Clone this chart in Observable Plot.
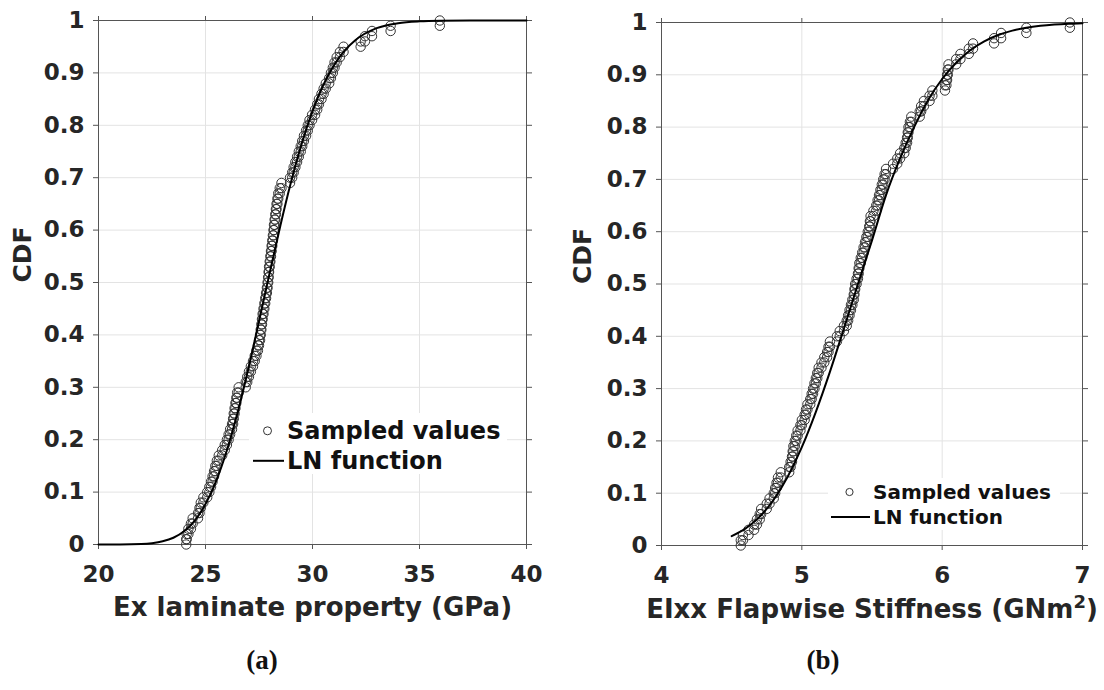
<!DOCTYPE html>
<html>
<head>
<meta charset="utf-8">
<script src="https://cdn.jsdelivr.net/npm/d3@7"></script>
<script src="https://cdn.jsdelivr.net/npm/@observablehq/plot@0.6"></script>
<style>
  html, body { margin: 0; padding: 0; background: #fff; }
  #wrap { position: relative; width: 1104px; height: 690px; overflow: hidden; font-family: "DejaVu Sans", sans-serif; }
  .panel { position: absolute; top: 0; }
  .legend { position: absolute; background: #fff; color: #111; font-weight: bold; font-family: "DejaVu Sans", sans-serif; }
  .legend .row { position: absolute; left: 0; white-space: nowrap; display: flex; align-items: center; }
  .legend svg { display: block; }
  .caption { position: absolute; font-family: "Liberation Serif", "Times New Roman", serif; font-weight: bold; font-size: 27px; color: #111; transform: translate(-50%, -50%); }
</style>
</head>
<body>
<div id="wrap">
  <div id="panelA" class="panel" style="left:0px"></div>
  <div id="panelB" class="panel" style="left:552px"></div>
</div>
<script>
// Tick values
const xTicksA = [20, 25, 30, 35, 40];
const xTicksB = [4, 5, 6, 7];
const yTicks = [0, 0.1, 0.2, 0.3, 0.4, 0.5, 0.6, 0.7, 0.8, 0.9, 1];

// Axis titles and legend text
const titleA = "Ex laminate property (GPa)";
const titleB = ["EIxx Flapwise Stiffness (GNm", "2", ")"];
const yTitle = "CDF";
const seriesNames = ["Sampled values", "LN function"];
const captions = ["(a)", "(b)"];

// Sorted samples of Ex (GPa), 100 draws
const sampledEx = [
  24.10, 24.12, 24.20, 24.32, 24.40, 24.65, 24.72, 24.78, 24.90, 25.08,
  25.18, 25.26, 25.33, 25.40, 25.46, 25.53, 25.62, 25.78, 25.90, 26.00,
  26.08, 26.15, 26.24, 26.29, 26.32, 26.36, 26.40, 26.44, 26.48, 26.55,
  26.88, 26.95, 27.03, 27.12, 27.22, 27.30, 27.38, 27.45, 27.50, 27.55,
  27.58, 27.61, 27.64, 27.67, 27.71, 27.75, 27.79, 27.83, 27.87, 27.90,
  27.93, 27.95, 27.97, 28.00, 28.03, 28.06, 28.09, 28.12, 28.15, 28.18,
  28.20, 28.23, 28.26, 28.29, 28.32, 28.36, 28.40, 28.47, 28.55, 28.95,
  29.05, 29.12, 29.20, 29.28, 29.36, 29.45, 29.52, 29.60, 29.70, 29.78,
  29.86, 29.98, 30.12, 30.22, 30.30, 30.42, 30.52, 30.62, 30.78, 30.86,
  30.95, 31.03, 31.13, 31.28, 31.45, 32.25, 32.45, 32.78, 33.65, 35.95
];

// Sorted samples of EIxx (GNm2), 100 draws
const sampledEI = [
  4.565, 4.58, 4.62, 4.66, 4.68, 4.70, 4.71, 4.75, 4.77, 4.80,
  4.81, 4.82, 4.83, 4.85, 4.91, 4.92, 4.93, 4.935, 4.94, 4.95,
  4.96, 4.97, 4.99, 5.00, 5.02, 5.03, 5.04, 5.06, 5.07, 5.08,
  5.09, 5.10, 5.11, 5.12, 5.14, 5.16, 5.18, 5.19, 5.20, 5.25,
  5.27, 5.30, 5.32, 5.33, 5.34, 5.35, 5.36, 5.37, 5.375, 5.38,
  5.39, 5.40, 5.405, 5.41, 5.42, 5.43, 5.44, 5.45, 5.46, 5.47,
  5.48, 5.485, 5.49, 5.51, 5.53, 5.54, 5.55, 5.56, 5.57, 5.58,
  5.59, 5.60, 5.65, 5.68, 5.70, 5.73, 5.74, 5.75, 5.755, 5.76,
  5.77, 5.78, 5.84, 5.85, 5.87, 5.91, 5.93, 6.02, 6.03, 6.035,
  6.04, 6.045, 6.10, 6.13, 6.19, 6.22, 6.37, 6.42, 6.60, 6.91
];

// Fitted lognormal CDF, Ex
const lnExX = [20, 21, 22, 22.5, 23, 23.5, 24, 24.5, 25, 25.5, 26, 26.5, 27, 27.5, 28, 28.5,
  29, 29.5, 30, 30.5, 31, 31.5, 32, 33, 34, 35, 36, 38, 40];
const lnExCdf = [0, 0.0001, 0.001, 0.0026, 0.0061, 0.0129, 0.0252, 0.0457, 0.0771, 0.1214,
  0.1799, 0.2518, 0.335, 0.4258, 0.5185, 0.6089, 0.6922, 0.7655, 0.827, 0.8764, 0.9144,
  0.9425, 0.9625, 0.9854, 0.9949, 0.9984, 0.9995, 1, 1];

// Fitted lognormal CDF, EIxx
const lnEIX = [4.5, 4.6, 4.7, 4.8, 4.9, 5.0, 5.1, 5.2, 5.3, 5.4, 5.5, 5.6, 5.7, 5.8, 5.9,
  6.0, 6.1, 6.2, 6.3, 6.4, 6.5, 6.6, 6.7, 6.8, 6.9, 7.0];
const lnEICdf = [0.018, 0.0327, 0.0553, 0.0879, 0.132, 0.188, 0.2556, 0.332, 0.415, 0.5,
  0.5835, 0.67, 0.74, 0.80, 0.852, 0.892, 0.923, 0.947, 0.964, 0.976, 0.9845, 0.99, 0.9936,
  0.996, 0.9976, 0.9986];

// Empirical CDF: each sample drawn at both ends of its step
function ecdf(values) {
  const n = values.length;
  return values.flatMap((v, i) => [{x: v, y: i / n}, {x: v, y: (i + 1) / n}]);
}
const zip = (xs, ys) => xs.map((x, i) => ({x, y: ys[i]}));
const fmtY = d => String(+d.toFixed(1));

const ink = "#262626";
const axisGray = "#555555";
const gridGray = "#e3e3e3";

// One CDF panel: boxed frame with outward ticks on all sides, grid, samples and fitted curve
function cdfPanel({xDomain, xTicks, samples, curve, margins, xTitle, xTitleDy, yTitleDx}) {
  return Plot.plot({
    width: 552, height: 690,
    marginLeft: margins[0], marginRight: margins[1], marginTop: margins[2], marginBottom: margins[3],
    x: {domain: xDomain},
    y: {domain: [0, 1]},
    style: {fontFamily: "DejaVu Sans", fontWeight: "bold", color: ink, background: "transparent", overflow: "visible"},
    marks: [
      Plot.gridX(xTicks, {stroke: gridGray, strokeOpacity: 1}),
      Plot.gridY(yTicks, {stroke: gridGray, strokeOpacity: 1}),
      Plot.frame({stroke: axisGray}),
      Plot.axisX(xTicks, {anchor: "bottom", tickSize: 5, tickPadding: 16, fontSize: 23, stroke: axisGray, fill: ink, label: null, tickFormat: d => String(d)}),
      Plot.axisX(xTicks, {anchor: "top", tickSize: 5, stroke: axisGray, fill: "none", label: null}),
      Plot.axisY(yTicks, {anchor: "left", tickSize: 5, tickPadding: 9, fontSize: 23, stroke: axisGray, fill: ink, label: null, tickFormat: fmtY}),
      Plot.axisY(yTicks, {anchor: "right", tickSize: 5, stroke: axisGray, fill: "none", label: null}),
      Plot.dot(ecdf(samples), {x: "x", y: "y", r: 4.7, stroke: "#333", strokeWidth: 1, fill: "none"}),
      Plot.line(curve, {x: "x", y: "y", curve: "monotone-x", stroke: "#000", strokeWidth: 2}),
      Plot.text([xTitle], {frameAnchor: "bottom", dy: xTitleDy, fontSize: 26, fill: ink}),
      Plot.text([yTitle], {frameAnchor: "left", dx: yTitleDx, rotate: -90, fontSize: 25, fill: ink})
    ]
  });
}

const svgA = cdfPanel({
  xDomain: [20, 40], xTicks: xTicksA, samples: sampledEx, curve: zip(lnExX, lnExCdf),
  margins: [98, 26, 20, 146], xTitle: titleA, xTitleDy: 71, yTitleDx: -76
});

const svgB = cdfPanel({
  xDomain: [4, 7], xTicks: xTicksB, samples: sampledEI, curve: zip(lnEIX, lnEICdf),
  margins: [109, 22, 22, 145], xTitle: titleB.join(""), xTitleDy: 72, yTitleDx: -79
});

// raise the exponent in the EIxx unit
d3.select(svgB).selectAll("text")
  .filter(function () { return this.textContent === titleB.join(""); })
  .each(function () {
    const t = d3.select(this);
    t.text(titleB[0]);
    t.append("tspan").attr("dy", -10).attr("font-size", 18).text(titleB[1]);
    t.append("tspan").attr("dy", 10).text(titleB[2]);
  });

document.getElementById("panelA").appendChild(svgA);
document.getElementById("panelB").appendChild(svgB);

// Legends overlaid inside the axes, on a white box
function legend(box, rowYs, fontSize, r, lineLen, textLeft) {
  const div = document.createElement("div");
  div.className = "legend";
  Object.assign(div.style, {left: box[0] + "px", top: box[1] + "px", width: box[2] + "px", height: box[3] + "px", fontSize: fontSize + "px"});
  seriesNames.forEach((name, i) => {
    const row = document.createElement("div");
    row.className = "row";
    row.style.top = (rowYs[i] - box[1] - fontSize * 0.7) + "px";
    row.style.height = (fontSize * 1.4) + "px";
    const sw = d3.create("svg").attr("width", textLeft).attr("height", fontSize * 1.4);
    const cy = fontSize * 0.7;
    if (i === 0) {
      sw.append("circle").attr("cx", textLeft - lineLen / 2 - 4).attr("cy", cy).attr("r", r)
        .attr("fill", "none").attr("stroke", "#333").attr("stroke-width", 1);
    } else {
      sw.append("line").attr("x1", textLeft - lineLen - 3).attr("x2", textLeft - 3).attr("y1", cy).attr("y2", cy)
        .attr("stroke", "#000").attr("stroke-width", 2);
    }
    row.appendChild(sw.node());
    const label = document.createElement("span");
    label.textContent = name;
    row.appendChild(label);
    div.appendChild(row);
  });
  document.getElementById("wrap").appendChild(div);
}
legend([249, 413, 258, 61], [431, 461], 24, 4, 31, 38);
legend([828, 478, 232, 52], [492, 517], 20, 3.6, 39, 45);

captions.forEach((c, i) => {
  const d = document.createElement("div");
  d.className = "caption";
  d.textContent = c;
  d.style.left = [262, 823][i] + "px";
  d.style.top = "660px";
  document.getElementById("wrap").appendChild(d);
});
</script>
</body>
</html>
